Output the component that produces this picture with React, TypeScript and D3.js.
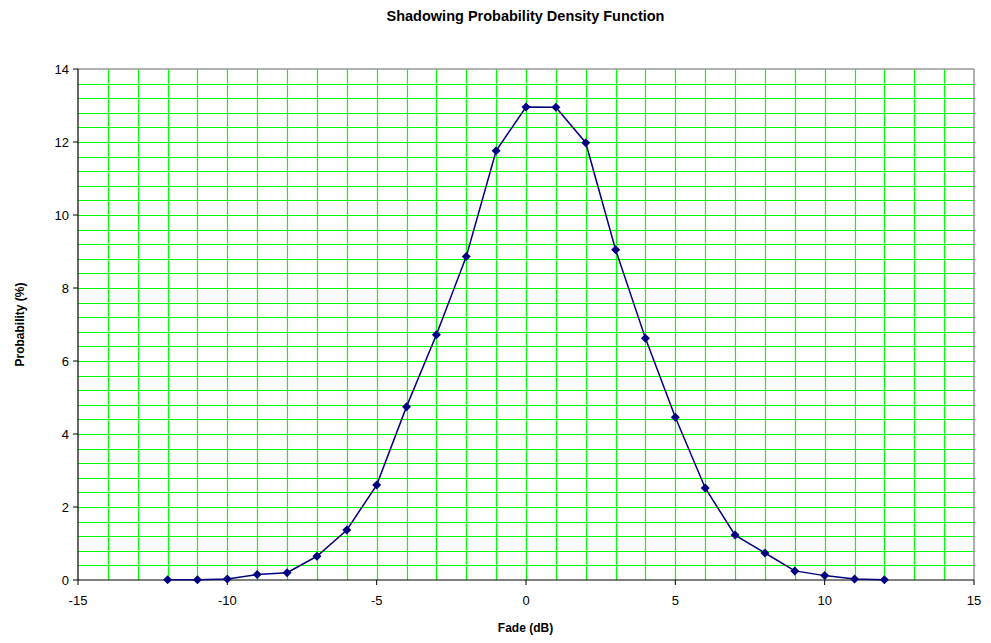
import * as d3 from "d3";

const fade = [-12, -11, -10, -9, -8, -7, -6, -5, -4, -3, -2, -1, 0, 1, 2, 3, 4, 5, 6, 7, 8, 9, 10, 11, 12];
const probability = [0.01, 0.01, 0.03, 0.15, 0.2, 0.65, 1.37, 2.6, 4.75, 6.72, 8.86, 11.76, 12.96, 12.95, 11.98, 9.05, 6.62, 4.46, 2.52, 1.23, 0.74, 0.25, 0.12, 0.03, 0.01];
const xTicks = [-15, -10, -5, 0, 5, 10, 15];
const yTicks = [0, 2, 4, 6, 8, 10, 12, 14];

export default function App() {
  const width = 991;
  const height = 643;
  const margin = { top: 69, right: 17, bottom: 63, left: 78 };
  const font = "'Liberation Sans', Arial, sans-serif";

  const x = d3.scaleLinear().domain([-15, 15]).range([margin.left, width - margin.right]);
  const y = d3.scaleLinear().domain([0, 14]).range([height - margin.bottom, margin.top]);

  const data = fade.map((f, i) => ({ f, p: probability[i] }));
  const line = d3.line<{ f: number; p: number }>().x((d) => x(d.f)).y((d) => y(d.p));

  const vGrid = d3.range(-14, 15, 1);
  const hGrid = d3.range(1, 35).map((k) => k * 0.4);

  const x0 = x(-15);
  const x1 = x(15);
  const y0 = y(0);
  const y1 = y(14);

  return (
    <svg width={width} height={height} style={{ position: "absolute", left: 0, top: 0, background: "#fff" }}>
      <text x={width / 2 + 30} y={21} textAnchor="middle" fontFamily={font} fontWeight="bold" fontSize={14.5}>
        Shadowing Probability Density Function
      </text>

      {hGrid.map((v) => (
        <line key={"h" + v} x1={x0} x2={x1} y1={Math.round(y(v)) + 0.5} y2={Math.round(y(v)) + 0.5} stroke="#00ff00" strokeWidth={1.2} />
      ))}
      {vGrid.map((v) => (
        <line key={"v" + v} x1={Math.round(x(v)) + 0.5} x2={Math.round(x(v)) + 0.5} y1={y0} y2={y1} stroke="#00ff00" strokeWidth={1.2} />
      ))}

      {/* frame */}
      <line x1={x0} x2={x1} y1={y1} y2={y1} stroke="#999" strokeWidth={1.5} />
      <line x1={x1} x2={x1} y1={y1} y2={y0} stroke="#999" strokeWidth={1.5} />
      <line x1={x0} x2={x0} y1={y1} y2={y0} stroke="#000" strokeWidth={1.2} />
      <line x1={x0} x2={x1} y1={y0} y2={y0} stroke="#000" strokeWidth={1.2} />

      {yTicks.map((t) => (
        <g key={"yt" + t}>
          <line x1={x0 - 5} x2={x0} y1={y(t)} y2={y(t)} stroke="#000" />
          <text x={x0 - 9} y={y(t) + 5} textAnchor="end" fontFamily={font} fontSize={13}>
            {t}
          </text>
        </g>
      ))}
      {xTicks.map((t) => (
        <g key={"xt" + t}>
          <line x1={x(t)} x2={x(t)} y1={y0} y2={y0 + 5} stroke="#000" />
          <text x={x(t)} y={y0 + 25} textAnchor="middle" fontFamily={font} fontSize={13}>
            {t}
          </text>
        </g>
      ))}

      <text x={width / 2 + 30} y={632} textAnchor="middle" fontFamily={font} fontWeight="bold" fontSize={12}>
        Fade (dB)
      </text>
      <text transform={`translate(24,${(y0 + y1) / 2}) rotate(-90)`} textAnchor="middle" fontFamily={font} fontWeight="bold" fontSize={12}>
        Probability (%)
      </text>

      <path d={line(data) ?? ""} fill="none" stroke="#000080" strokeWidth={1.5} />
      {data.map((d) => (
        <path
          key={"m" + d.f}
          transform={`translate(${x(d.f)},${y(d.p)})`}
          d="M0,-4.5L4.5,0L0,4.5L-4.5,0Z"
          fill="#000080"
        />
      ))}
    </svg>
  );
}
